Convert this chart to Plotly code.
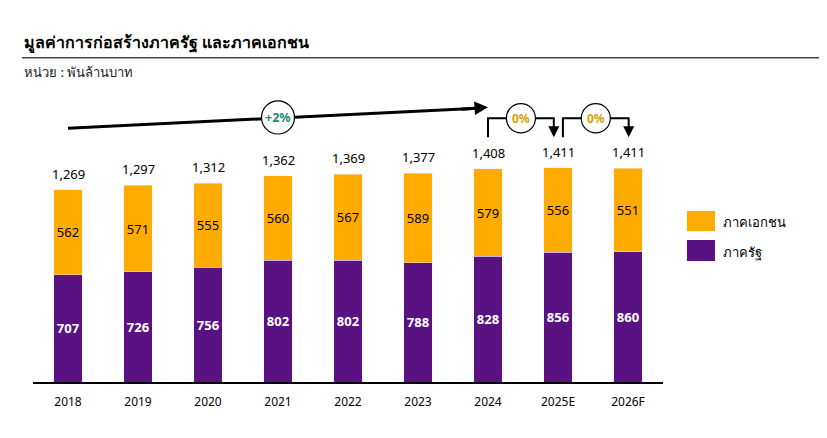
import plotly.graph_objects as go

years = ["2018", "2019", "2020", "2021", "2022", "2023", "2024", "2025E", "2026F"]
public_sector = [707, 726, 756, 802, 802, 788, 828, 856, 860]
private_sector = [562, 571, 555, 560, 567, 589, 579, 556, 551]
totals = [1269, 1297, 1312, 1362, 1369, 1377, 1408, 1411, 1411]

PURPLE = "#5A1283"
ORANGE = "#FFAB00"
FONT = "Noto Sans, DejaVu Sans, sans-serif"

fig = go.Figure()

fig.add_trace(go.Bar(
    x=years, y=public_sector, name="ภาครัฐ", marker_color=PURPLE,
    text=public_sector, textposition="inside", insidetextanchor="middle",
    textfont=dict(color="white", size=13, family=FONT, weight="bold"),
))
fig.add_trace(go.Bar(
    x=years, y=private_sector, name="ภาคเอกชน", marker_color=ORANGE,
    text=private_sector, textposition="inside", insidetextanchor="middle",
    textfont=dict(color="black", size=13, family=FONT),
))

shapes = []
annotations = []

# totals above each stack
for i, tot in enumerate(totals):
    annotations.append(dict(xref="x", yref="y", x=i, y=tot, text=f"{tot:,}", showarrow=False,
                            yanchor="bottom", yshift=5,
                            font=dict(color="black", size=13, family=FONT)))

# long growth arrow 2018 -> 2024
shapes.append(dict(type="line", xref="x", yref="y", x0=0, y0=1674, x1=5.85, y1=1806,
                   line=dict(color="black", width=3)))
annotations.append(dict(xref="x", yref="y", axref="x", ayref="y", x=6, y=1813, ax=5.6, ay=1799,
                        text="", showarrow=True, arrowhead=2, arrowsize=0.9, arrowwidth=3,
                        arrowcolor="black", standoff=0, startstandoff=0))
shapes.append(dict(type="circle", xref="x", yref="y", x0=2.765, x1=3.235, y0=1636, y1=1855,
                   fillcolor="white", line=dict(color="black", width=1.2)))
annotations.append(dict(xref="x", yref="y", x=3, y=1745, text="<b>+2%</b>", showarrow=False,
                        font=dict(color="#178A7A", size=12.5, family=FONT)))

# elbow arrows 2024 -> 2025E -> 2026F
for x_start, x_end in [(6.0, 6.94), (7.07, 8.01)]:
    shapes.append(dict(type="path", xref="x", yref="y",
                       path=f"M {x_start},1615 L {x_start},1740 L {x_end},1740 L {x_end},1660",
                       line=dict(color="black", width=2)))
    annotations.append(dict(xref="x", yref="y", axref="x", ayref="y", x=x_end, y=1615,
                            ax=x_end, ay=1680, text="", showarrow=True, arrowhead=2,
                            arrowsize=1.1, arrowwidth=2, arrowcolor="black",
                            standoff=0, startstandoff=0))
    xc = (x_start + x_end) / 2
    shapes.append(dict(type="circle", xref="x", yref="y", x0=xc - 0.208, x1=xc + 0.208,
                       y0=1643, y1=1837, fillcolor="white", line=dict(color="black", width=1.2)))
    annotations.append(dict(xref="x", yref="y", x=xc, y=1740, text="<b>0%</b>", showarrow=False,
                            font=dict(color="#D9A000", size=12, family=FONT)))

# title, underline, unit
annotations.append(dict(xref="paper", yref="paper", x=-0.0175, y=1.18, xanchor="left",
                        yanchor="middle", text="<b>มูลค่าการก่อสร้างภาครัฐ และภาคเอกชน</b>",
                        showarrow=False, font=dict(size=16, color="black", family=FONT)))
shapes.append(dict(type="line", xref="paper", yref="paper", x0=-0.0175, x1=1.26, y0=1.126, y1=1.126,
                   line=dict(color="#444444", width=1.5)))
annotations.append(dict(xref="paper", yref="paper", x=-0.0175, y=1.076, xanchor="left",
                        yanchor="middle", text="หน่วย : พันล้านบาท",
                        showarrow=False, font=dict(size=13, color="#222222", family=FONT)))

# legend
for label, color, y0, y1, ty in [("ภาคเอกชน", ORANGE, 0.524, 0.594, 0.556),
                                  ("ภาครัฐ", PURPLE, 0.420, 0.493, 0.451)]:
    shapes.append(dict(type="rect", xref="paper", yref="paper", x0=1.038, x1=1.0825, y0=y0, y1=y1,
                       fillcolor=color, line=dict(width=0)))
    annotations.append(dict(xref="paper", yref="paper", x=1.092, y=ty, xanchor="left",
                            yanchor="middle", text=label, showarrow=False,
                            font=dict(size=13, color="black", family=FONT)))

# the page adds an 8px body margin, so the figure is laid out 8px short on each side
fig.update_layout(
    width=819, height=430,
    margin=dict(l=25, r=164, t=86, b=56),
    barmode="stack", bargap=0.59,
    plot_bgcolor="white", paper_bgcolor="white",
    showlegend=False,
    font=dict(family=FONT, color="black"),
    shapes=shapes, annotations=annotations,
    xaxis=dict(type="category", showline=True, linecolor="black", linewidth=1.5, ticks="outside",
               ticklen=8, tickcolor="rgba(0,0,0,0)", tickfont=dict(size=12, color="black")),
    yaxis=dict(range=[0, 1900], visible=False, showgrid=False),
)

fig.write_html("out.html")
